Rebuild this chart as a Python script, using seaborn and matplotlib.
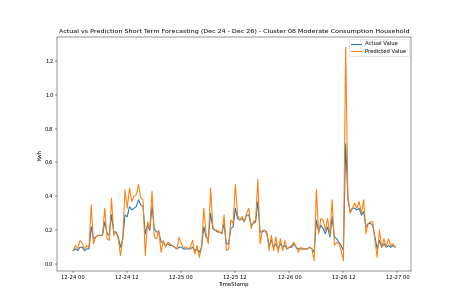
import numpy as np
import pandas as pd
import seaborn as sns
import matplotlib.pyplot as plt

# Half-hourly readings, Dec 24 00:00 -> Dec 26 23:30
timestamps = pd.date_range('2023-12-24 00:00', periods=144, freq='30min')

actual_dec24 = [0.08, 0.09, 0.08, 0.10, 0.10, 0.08, 0.09, 0.09,
                0.22, 0.15, 0.16, 0.17, 0.17, 0.17, 0.25, 0.18,
                0.17, 0.29, 0.19, 0.19, 0.16, 0.10, 0.15, 0.29,
                0.28, 0.34, 0.32, 0.33, 0.34, 0.38, 0.35, 0.34,
                0.18, 0.23, 0.20, 0.34, 0.21, 0.19, 0.19, 0.13,
                0.13, 0.11, 0.12, 0.11, 0.11, 0.10, 0.09, 0.10]
actual_dec25 = [0.10, 0.09, 0.09, 0.09, 0.09, 0.10, 0.08, 0.09,
                0.07, 0.10, 0.22, 0.16, 0.15, 0.30, 0.21, 0.20,
                0.19, 0.19, 0.18, 0.24, 0.12, 0.12, 0.21, 0.22,
                0.33, 0.27, 0.26, 0.27, 0.25, 0.29, 0.29, 0.23,
                0.24, 0.25, 0.37, 0.19, 0.19, 0.20, 0.18, 0.11,
                0.14, 0.10, 0.12, 0.09, 0.12, 0.10, 0.11, 0.09]
actual_dec26 = [0.10, 0.10, 0.12, 0.10, 0.09, 0.09, 0.09, 0.09,
                0.09, 0.10, 0.09, 0.07, 0.26, 0.19, 0.23, 0.21,
                0.18, 0.22, 0.16, 0.28, 0.16, 0.15, 0.13, 0.11,
                0.08, 0.71, 0.38, 0.31, 0.33, 0.33, 0.32, 0.33,
                0.29, 0.31, 0.22, 0.24, 0.24, 0.23, 0.16, 0.09,
                0.14, 0.10, 0.12, 0.10, 0.11, 0.10, 0.11, 0.10]

pred_dec24 = [0.08, 0.11, 0.09, 0.14, 0.12, 0.09, 0.11, 0.10,
              0.35, 0.12, 0.16, 0.17, 0.17, 0.17, 0.33, 0.15,
              0.14, 0.39, 0.17, 0.19, 0.15, 0.05, 0.15, 0.44,
              0.33, 0.45, 0.37, 0.40, 0.41, 0.47, 0.39, 0.38,
              0.05, 0.25, 0.21, 0.43, 0.16, 0.15, 0.20, 0.07,
              0.14, 0.10, 0.13, 0.12, 0.11, 0.10, 0.09, 0.16]
pred_dec25 = [0.12, 0.10, 0.10, 0.09, 0.10, 0.14, 0.06, 0.11,
              0.04, 0.10, 0.33, 0.18, 0.12, 0.45, 0.22, 0.20,
              0.20, 0.19, 0.18, 0.29, 0.08, 0.09, 0.26, 0.24,
              0.47, 0.29, 0.26, 0.28, 0.25, 0.30, 0.33, 0.21,
              0.25, 0.26, 0.50, 0.12, 0.20, 0.20, 0.19, 0.08,
              0.17, 0.08, 0.16, 0.07, 0.15, 0.08, 0.14, 0.09]
pred_dec26 = [0.10, 0.11, 0.13, 0.10, 0.07, 0.10, 0.09, 0.09,
              0.09, 0.10, 0.09, 0.02, 0.44, 0.18, 0.27, 0.26,
              0.20, 0.27, 0.17, 0.38, 0.11, 0.13, 0.12, 0.08,
              0.02, 1.28, 0.40, 0.30, 0.33, 0.36, 0.33, 0.37,
              0.30, 0.38, 0.18, 0.24, 0.25, 0.25, 0.14, 0.04,
              0.20, 0.10, 0.15, 0.10, 0.15, 0.11, 0.12, 0.10]

df = pd.DataFrame({
    'TimeStamp': timestamps,
    'Actual Value': actual_dec24 + actual_dec25 + actual_dec26,
    'Predicted Value': pred_dec24 + pred_dec25 + pred_dec26,
})

fig, ax = plt.subplots(figsize=(457 / 38, 305 / 38), dpi=38)
sns.lineplot(x='TimeStamp', y='Actual Value', data=df, ax=ax, label='Actual Value',
             color='#1f77b4', linewidth=2)
sns.lineplot(x='TimeStamp', y='Predicted Value', data=df, ax=ax, label='Predicted Value',
             color='#ff7f0e', linewidth=2)

ax.set_title('Actual vs Prediction Short Term Forecasting (Dec 24 - Dec 26) - Cluster 08 Moderate Consumption Household')
ax.set_xlabel('TimeStamp')
ax.set_ylabel('Kwh')
ax.legend(loc='upper right')

fig.savefig('out.png', dpi=38)
